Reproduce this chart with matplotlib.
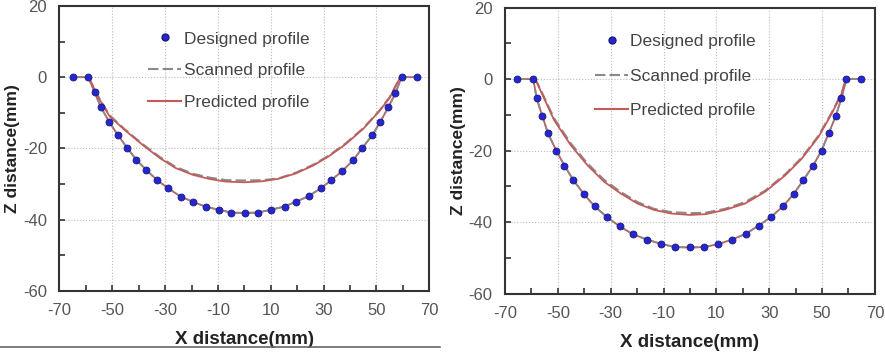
import numpy as np
import matplotlib.pyplot as plt
from matplotlib.lines import Line2D

plt.rcParams['font.family'] = ['Liberation Sans', 'DejaVu Sans']
plt.rcParams['axes.unicode_minus'] = False

# ---- left panel (shallow part) ----
des_x_a = [-64.9, -59.0, -56.7, -54.3, -51.2, -47.9, -44.4, -40.85, -37.05, -33.0, -28.8,
           -24.1, -19.4, -14.4, -9.7, -4.9, 0.3, 5.0, 10.1, 15.2, 19.7, 24.3, 28.9, 32.9,
           37.1, 41.2, 44.7, 48.4, 51.5, 54.5, 57.2, 59.5, 65.5]
des_z_a = [0, 0, -4.2, -8.4, -12.5, -16.2, -19.8, -23.2, -26.1, -28.9, -31.2,
           -33.5, -35.0, -36.4, -37.2, -38.0, -38.1, -38.0, -37.2, -36.3, -34.9, -33.4, -31.2, -28.9,
           -26.3, -23.3, -19.8, -16.3, -12.5, -8.4, -4.5, 0, 0]
pre_x_a = [-59, -55, -51, -45, -38.5, -32, -26, -19.5, -13, -7, 0, 7, 13, 19.5, 26, 32,
           38.5, 45, 51, 55, 59]
pre_z_a = [0, -6.0, -11.0, -15.0, -19.0, -22.7, -25.5, -27.4, -28.6, -29.3, -29.5, -29.2,
           -28.5, -27.0, -24.8, -22.2, -18.7, -14.5, -9.6, -5.8, 0]
scn_z_a = [0, -5.8, -10.7, -14.8, -18.8, -22.4, -25.2, -27.1, -28.2, -28.9, -29.0, -28.9,
           -28.4, -26.8, -24.6, -22.0, -18.5, -14.3, -9.5, -5.6, 0]

# ---- right panel (deep part) ----
des_x_b = [-65.4, -59.3, -58.0, -55.9, -53.7, -50.6, -47.5, -44.1, -40.1, -36.1, -31.4,
           -26.6, -21.6, -16.3, -10.9, -5.6, -0.1, 5.2, 10.6, 15.9, 21.1, 26.0, 30.8, 35.2,
           39.3, 42.9, 46.6, 49.8, 52.5, 55.2, 57.3, 59.2, 64.7]
des_z_b = [0, 0, -5.4, -10.3, -15.2, -20.0, -24.2, -28.3, -32.2, -35.6, -38.6,
           -41.2, -43.4, -44.9, -46.1, -47.0, -47.1, -47.0, -46.2, -44.9, -43.3, -41.0, -38.5, -35.6,
           -32.1, -28.3, -24.2, -20.0, -15.2, -10.3, -5.4, 0, 0]
pre_x_b = [-59, -57.8, -51.4, -45.1, -38.8, -32.5, -26.2, -19.9, -13.6, -7.2, 0, 5.8, 13.3,
           20.9, 28.5, 36.1, 42.4, 48.7, 53.7, 57.5, 59]
pre_z_b = [0, -1.2, -11.5, -18.5, -24.1, -28.7, -32.0, -34.8, -36.6, -37.6, -38.0, -37.8,
           -36.6, -34.8, -31.5, -26.9, -22.2, -16.1, -9.6, -4.0, 0]
scn_z_b = [0, -1.0, -11.0, -18.0, -23.6, -28.2, -31.6, -34.4, -36.3, -37.2, -37.5, -37.4,
           -36.3, -34.4, -31.2, -26.6, -21.9, -15.8, -9.3, -3.8, 0]

blue = '#2626d0'
gray = '#8a8a8a'
red = '#c45a5a'

fig = plt.figure(figsize=(8.85, 3.52), dpi=100)
ax1 = fig.add_axes([0.0671, 0.1733, 0.418, 0.81])
ax2 = fig.add_axes([0.5706, 0.166, 0.418, 0.8125])

panels = [
    (ax1, des_x_a, des_z_a, pre_x_a, pre_z_a, scn_z_a, 0.935, 0.95, 0.222),
    (ax2, des_x_b, des_z_b, pre_x_b, pre_z_b, scn_z_b, 0.932, 1.12, 0.225),
]

for ax, dx, dz, px, pz, sz, leg_y, lsp, leg_x in panels:
    # final stage lines run through the designed points
    ax.plot(dx, dz, color=red, lw=1.3, zorder=2)
    ax.plot(dx, dz, color=gray, lw=1.3, ls=(0, (5, 2)), zorder=2)
    ax.plot(px, sz, color=gray, lw=1.5, ls=(0, (5, 2)), zorder=2)
    ax.plot(px, pz, color=red, lw=1.3, zorder=3)
    ax.plot(dx, dz, 'o', ms=5, color=blue, mec='#1a1a80', mew=0.6, zorder=4)

    ax.set_xlim(-70, 70)
    ax.set_ylim(-60, 20)
    ax.set_xticks(np.arange(-70, 71, 20))
    ax.set_xticks(np.arange(-60, 61, 20), minor=True)
    ax.set_yticks(np.arange(-60, 21, 20))
    ax.set_yticks(np.arange(-50, 20, 20), minor=True)
    ax.tick_params(which='both', direction='in', colors='#333333', labelcolor='#555555',
                   labelsize=12, pad=9)
    ax.tick_params(which='major', length=4, width=1.2)
    ax.tick_params(which='minor', length=4, width=1.2)
    for x in range(-50, 51, 20):
        ax.axvline(x, color='#bbbbbb', lw=0.8, ls=':', zorder=0)
    for y in (0, -20, -40):
        ax.axhline(y, color='#bbbbbb', lw=0.8, ls=':', zorder=0)
    for s in ax.spines.values():
        s.set_color('#333333')
        s.set_linewidth(1.5)

    ax.set_xlabel('X distance(mm)', fontsize=13.5, fontweight='bold', color='#222222', labelpad=9)
    ax.set_ylabel('Z distance(mm)', fontsize=12.5, fontweight='bold', color='#222222', labelpad=2)

    handles = [
        Line2D([], [], ls='none', marker='o', ms=5, color=blue, mec='#1a1a80'),
        Line2D([], [], color=gray, lw=1.5, ls=(0, (5, 2))),
        Line2D([], [], color=red, lw=1.5),
    ]
    ax.legend(handles, ['Designed profile', 'Scanned profile', 'Predicted profile'],
              loc='upper left', bbox_to_anchor=(leg_x, leg_y), frameon=False,
              fontsize=12.5, labelcolor='#444444', handlelength=1.9, handletextpad=0.12,
              labelspacing=lsp, borderaxespad=0)

fig.add_artist(Line2D([0, 0.497], [0.014, 0.014], color='#666666', lw=1.2))

plt.savefig('out.png', dpi=100)
